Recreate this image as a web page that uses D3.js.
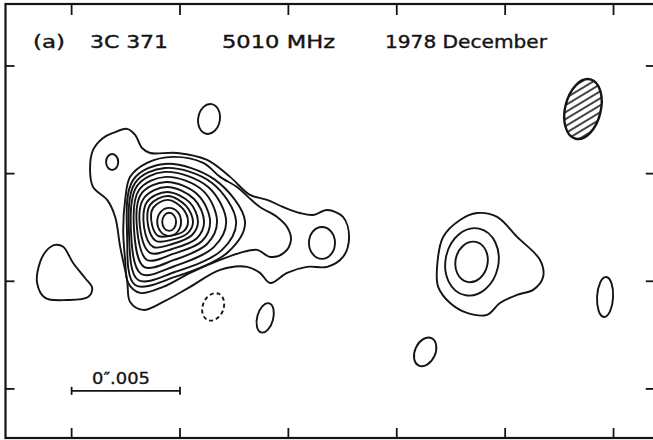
<!DOCTYPE html>
<html><head><meta charset="utf-8">
<script src="https://cdn.jsdelivr.net/npm/d3@7"></script>
<style>html,body{margin:0;padding:0;background:#fff;}svg{display:block;}</style>
</head><body>
<script>
// ---- Data (sky offsets in milliarcseconds) ----
const xTicks = [0, 5, 10, 15, 20, 25];
const yTicks = [0, 5, 10, 15];
const titleParts = ["(a)", "3C 371", "5010 MHz", "1978 December"];
const scaleBarMas = [0, 5];
const scaleBarLabel = "0\u2033.005";

// closed contours read as point lists [x_mas, y_mas]
const contourOuter = [[1.91,11.89],[2.56,12.08],[2.93,11.80],[3.25,11.19],[3.62,10.96],[4.87,10.96],[6.25,10.64],[7.31,9.85],[8.23,9.01],[9.02,8.78],[9.76,8.45],[10.54,8.17],[11.14,8.08],[11.79,8.31],[12.52,7.99],[12.80,7.06],[12.52,6.13],[11.79,5.67],[10.86,5.67],[9.94,5.39],[9.16,4.92],[8.69,5.39],[8.09,5.67],[6.85,5.53],[5.47,4.74],[4.22,4.04],[3.30,3.67],[2.70,4.04],[2.56,5.06],[2.24,6.60],[2.01,7.99],[1.64,8.78],[0.99,9.38],[0.85,10.17],[0.99,11.10],[1.45,11.66]];
const contourSecond = [[2.70,9.85],[3.48,10.50],[4.68,10.78],[6.07,10.50],[6.85,9.85],[7.63,9.38],[8.14,8.92],[8.69,8.45],[9.48,7.99],[9.94,7.52],[10.12,6.92],[9.80,6.32],[9.16,6.13],[8.56,6.46],[7.77,6.32],[6.85,5.99],[5.47,5.39],[4.22,4.74],[3.16,4.46],[2.61,4.92],[2.47,5.99],[2.38,7.38],[2.47,8.78]];
const coreRings = [
  [[2.84,9.71],[4.31,10.45],[6.62,9.71],[8.00,7.76],[7.22,6.36],[4.77,5.20],[2.93,4.83],[2.56,7.15]],
  [[2.93,9.57],[4.31,10.26],[6.48,9.57],[7.59,7.76],[6.94,6.46],[4.77,5.43],[3.07,5.06],[2.65,7.15]],
  [[3.02,9.43],[4.31,10.08],[6.30,9.38],[7.13,7.76],[6.57,6.60],[4.77,5.71],[3.21,5.34],[2.74,7.29]],
  [[3.11,9.24],[4.36,9.85],[6.07,9.20],[6.71,7.76],[6.25,6.73],[4.73,5.99],[3.34,5.67],[2.88,7.39]],
  [[3.21,9.06],[4.36,9.61],[5.83,9.01],[6.39,7.76],[6.02,6.87],[4.68,6.27],[3.48,5.99],[3.02,7.43]],
  [[3.34,8.87],[4.40,9.38],[5.65,8.82],[6.11,7.76],[5.79,7.01],[4.64,6.50],[3.62,6.32],[3.16,7.48]],
  [[3.48,8.69],[4.40,9.15],[5.47,8.64],[5.83,7.76],[5.56,7.15],[4.64,6.73],[3.76,6.60],[3.34,7.52]],
  [[3.62,8.55],[4.45,8.96],[5.28,8.50],[5.60,7.76],[5.37,7.25],[4.59,6.92],[3.90,6.87],[3.53,7.57]],
  [[3.76,8.41],[4.45,8.78],[5.14,8.36],[5.37,7.76],[5.19,7.34],[4.54,7.11],[3.99,7.11],[3.71,7.62]]
];
const contourWestBlob = [[-0.76,6.69],[-0.39,6.60],[0.07,5.85],[0.62,5.15],[0.95,4.69],[0.76,4.27],[-0.21,4.13],[-1.22,4.23],[-1.59,4.92],[-1.45,5.90],[-1.13,6.46]];
const contourEastOuter = [[16.86,5.67],[17.14,7.06],[17.92,7.85],[18.70,8.17],[19.63,7.99],[20.55,7.06],[21.61,5.99],[21.75,5.20],[21.29,4.60],[20.55,4.37],[19.76,3.99],[19.16,3.44],[18.24,3.53],[17.46,3.99],[16.91,4.74]];

// small closed contours fitted as ellipses: cx, cy, rx, ry (mas), tilt (deg), negative level?
const ellipseContours = [
  {cx:1.87, cy:10.54, rx:0.28, ry:0.37, tilt:0,  neg:false},
  {cx:11.55,cy:6.78,  rx:0.60, ry:0.74, tilt:0,  neg:false},
  {cx:4.50, cy:7.76,  rx:0.55, ry:0.65, tilt:0,  neg:false},
  {cx:4.50, cy:7.76,  rx:0.32, ry:0.42, tilt:0,  neg:false},
  {cx:6.34, cy:12.54, rx:0.50, ry:0.70, tilt:10, neg:false},
  {cx:6.53, cy:3.81,  rx:0.48, ry:0.66, tilt:22, neg:true},
  {cx:8.93, cy:3.30,  rx:0.37, ry:0.70, tilt:15, neg:false},
  {cx:18.47,cy:5.90,  rx:1.22, ry:1.58, tilt:12, neg:false},
  {cx:18.45,cy:5.90,  rx:0.74, ry:0.95, tilt:12, neg:false},
  {cx:24.61,cy:4.27,  rx:0.37, ry:0.93, tilt:3,  neg:false},
  {cx:16.31,cy:1.72,  rx:0.47, ry:0.70, tilt:25, neg:false}
];
const beam = {cx:23.59, cy:13.0, rx:0.82, ry:1.42, tilt:14};

// ---- Drawing ----
const W = 653, H = 440;
const x = d3.scaleLinear().domain([-3.05, 26.95]).range([5.5, 655.8]);
const y = d3.scaleLinear().domain([-2.28, 17.88]).range([438, 4]);

const svg = d3.select("body").append("svg").attr("width", W).attr("height", H);
svg.append("rect").attr("width", W).attr("height", H).attr("fill", "#fff");

const ink = "#141414";
const defs = svg.append("defs");
const pat = defs.append("pattern").attr("id","hatch").attr("patternUnits","userSpaceOnUse")
  .attr("width",6).attr("height",6).attr("patternTransform","rotate(-45)");
pat.append("line").attr("x1",0).attr("y1",3).attr("x2",6).attr("y2",3).attr("stroke",ink).attr("stroke-width",1.6);

// frame
svg.append("rect").attr("x", x(-3.05)).attr("y", y(17.88))
  .attr("width", x(26.95)-x(-3.05)).attr("height", y(-2.28)-y(17.88))
  .attr("fill","none").attr("stroke", ink).attr("stroke-width", 2.2);

// ticks (inward)
const tk = svg.append("g").attr("stroke", ink).attr("stroke-width", 1.8);
xTicks.forEach(t => {
  tk.append("line").attr("x1", x(t)).attr("x2", x(t)).attr("y1", y(17.88)).attr("y2", y(17.88)+11);
  tk.append("line").attr("x1", x(t)).attr("x2", x(t)).attr("y1", y(-2.28)).attr("y2", y(-2.28)-10);
});
yTicks.forEach(t => {
  tk.append("line").attr("y1", y(t)).attr("y2", y(t)).attr("x1", x(-3.05)).attr("x2", x(-3.05)+9);
  tk.append("line").attr("y1", y(t)).attr("y2", y(t)).attr("x1", x(26.95)).attr("x2", x(26.95)-10);
});

// title
const titlePos = [[33, 65], [90, 168], [222, 335], [385, 547]];
titleParts.forEach((s, i) => {
  svg.append("text").attr("x", titlePos[i][0]).attr("y", 48)
    .attr("font-family", "DejaVu Sans, sans-serif").attr("font-size", 18)
    .attr("fill", ink).attr("stroke", ink).attr("stroke-width", 0.4)
    .attr("textLength", titlePos[i][1]-titlePos[i][0])
    .attr("lengthAdjust", "spacingAndGlyphs").text(s);
});

// contours
const line = d3.line().x(d => x(d[0])).y(d => y(d[1])).curve(d3.curveCatmullRomClosed.alpha(0.5));
const cg = svg.append("g").attr("fill","none").attr("stroke", ink).attr("stroke-width", 1.9).attr("stroke-linejoin","round");
[contourOuter, contourSecond, ...coreRings, contourWestBlob, contourEastOuter].forEach(c => {
  cg.append("path").attr("d", line(c));
});
ellipseContours.forEach(e => {
  cg.append("ellipse").attr("cx", x(e.cx)).attr("cy", y(e.cy))
    .attr("rx", x(e.cx+e.rx)-x(e.cx)).attr("ry", y(e.cy)-y(e.cy+e.ry))
    .attr("transform", `rotate(${e.tilt},${x(e.cx)},${y(e.cy)})`)
    .attr("stroke-dasharray", e.neg ? "4,3" : null);
});

// beam
svg.append("ellipse").attr("cx", x(beam.cx)).attr("cy", y(beam.cy))
  .attr("rx", x(beam.cx+beam.rx)-x(beam.cx)).attr("ry", y(beam.cy)-y(beam.cy+beam.ry))
  .attr("transform", `rotate(${beam.tilt},${x(beam.cx)},${y(beam.cy)})`)
  .attr("fill","url(#hatch)").attr("stroke", ink).attr("stroke-width", 2.4);

// scale bar
const sb = svg.append("g").attr("stroke", ink).attr("stroke-width", 1.8);
const sbY = y(-0.09);
sb.append("line").attr("x1", x(scaleBarMas[0])).attr("x2", x(scaleBarMas[1])).attr("y1", sbY).attr("y2", sbY);
scaleBarMas.forEach(v => sb.append("line").attr("x1", x(v)).attr("x2", x(v)).attr("y1", sbY-4).attr("y2", sbY+4));
svg.append("text").attr("x", 92).attr("y", 384)
  .attr("font-family","DejaVu Sans, sans-serif").attr("font-size", 15).attr("fill", ink)
  .attr("stroke", ink).attr("stroke-width", 0.3)
  .attr("textLength", 58).attr("lengthAdjust","spacingAndGlyphs").text(scaleBarLabel);
</script>
</body></html>
